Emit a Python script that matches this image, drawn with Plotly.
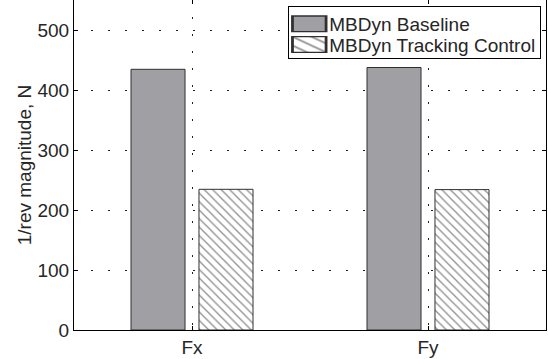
import plotly.graph_objects as go

categories = ["Fx", "Fy"]
baseline = [434.5, 437.5]
tracking = [234.5, 234.0]
y_ticks = [0, 100, 200, 300, 400, 500]

FONT = dict(family="Liberation Sans, Arial, sans-serif", size=19, color="#262626")

fig = go.Figure()
fig.add_trace(go.Bar(
    x=categories, y=baseline, name="MBDyn Baseline",
    marker=dict(color="#a0a0a4", line=dict(color="#303030", width=1)),
))
fig.add_trace(go.Bar(
    x=categories, y=tracking, name="MBDyn Tracking Control",
    marker=dict(color="white", line=dict(color="#303030", width=1),
                pattern=dict(shape="\\", size=6, solidity=0.22,
                             fgcolor="#202020", bgcolor="white")),
))

fig.update_layout(
    width=548, height=359,
    margin=dict(l=74, r=2, t=0, b=29),
    paper_bgcolor="white", plot_bgcolor="white",
    font=FONT,
    barmode="group", bargap=0.424, bargroupgap=0.205,
    showlegend=True,
    legend=dict(x=0.99, y=0.982, xanchor="right", yanchor="top",
                bordercolor="black", borderwidth=1, bgcolor="white",
                font=FONT, tracegroupgap=0, itemwidth=30),
)
fig.update_xaxes(
    range=[-0.5, 1.5], showline=True, linecolor="black", linewidth=1, mirror="ticks",
    ticks="inside", ticklen=4, tickcolor="black",
    showgrid=True, gridcolor="#222222", gridwidth=1, griddash="2px,15px",
    tickfont=FONT,
)
fig.update_yaxes(
    range=[0, 550], tickvals=y_ticks, showline=True, linecolor="black", linewidth=1,
    mirror="ticks", ticks="inside", ticklen=4, tickcolor="black",
    showgrid=True, gridcolor="#222222", gridwidth=1, griddash="2px,15px",
    zeroline=False, tickfont=FONT,
    title=dict(text="1/rev magnitude, N", font=FONT, standoff=0),
)

post = (
    "document.body.style.margin='0';document.body.style.overflow='hidden';"
    "document.querySelectorAll('.legend .legendpoints path').forEach(function(p){"
    "var t=p.getAttribute('transform')||'';"
    "p.setAttribute('transform', t+' scale(2.8,1.3)');});"
    "var tr=document.querySelectorAll('.legend .traces');"
    "var shifts=[-2,-9];"
    "tr.forEach(function(g,i){var t=g.getAttribute('transform')||'';"
    "g.setAttribute('transform', t+' translate(0,'+shifts[Math.min(i,1)]+')');});"
    "var bg=document.querySelector('.legend rect.bg');"
    "if(bg){bg.setAttribute('height', parseFloat(bg.getAttribute('height'))-15);}"
)

fig.write_html("out.html", post_script=post, config={"displayModeBar": False})
